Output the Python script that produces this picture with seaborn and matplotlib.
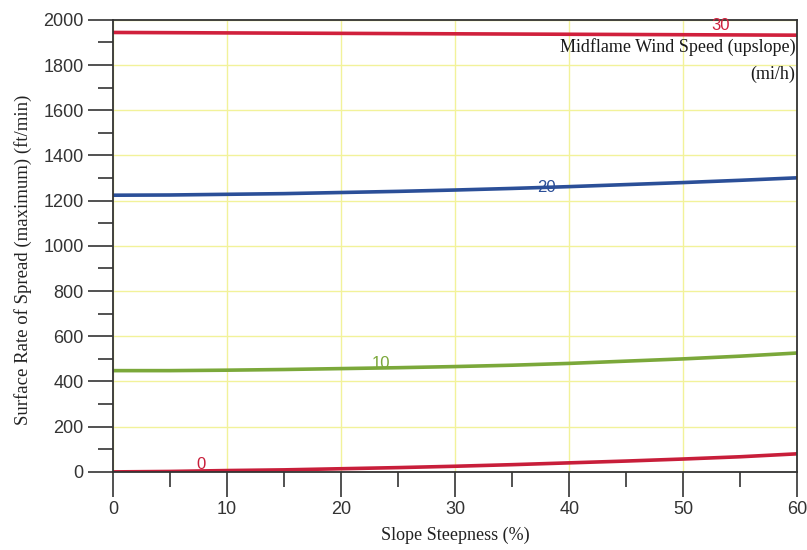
import numpy as np
import pandas as pd
import seaborn as sns
import matplotlib.pyplot as plt
from matplotlib.ticker import MultipleLocator

# slope steepness (%)
slope = [0, 5, 10, 15, 20, 25, 30, 35, 40, 45, 50, 55, 60]
# surface rate of spread (ft/min) for each midflame wind speed (mi/h)
ros_0 = [0, 2, 6, 9, 14, 19, 25, 32, 40, 48, 57, 67, 80]
ros_10 = [448, 448, 450, 453, 457, 461, 466, 472, 480, 490, 500, 512, 526]
ros_20 = [1224, 1225, 1228, 1231, 1236, 1241, 1247, 1254, 1262, 1271, 1280, 1290, 1301]
ros_30 = [1944, 1943, 1942, 1941, 1940, 1939, 1938, 1937, 1936, 1935, 1934, 1933, 1932]
wind_labels = ["0", "10", "20", "30"]
label_x = [7.7, 23.5, 38.0, 53.3]
label_y = [32, 478, 1258, 1975]
colors = ["#c81e3a", "#7ba83a", "#2b4f98", "#d0203c"]

df = pd.DataFrame({
    "Slope Steepness (%)": slope * 4,
    "ROS": ros_0 + ros_10 + ros_20 + ros_30,
    "Wind": sum([[w] * len(slope) for w in wind_labels], []),
})

sns.set_style("white")
fig = plt.figure(figsize=(8.07, 5.5), dpi=100)
ax = fig.add_axes([0.140, 0.142, 0.848, 0.822])

sns.lineplot(data=df, x="Slope Steepness (%)", y="ROS", hue="Wind",
             palette=dict(zip(wind_labels, colors)), linewidth=2.6,
             legend=False, ax=ax)

for w, x, y, c in zip(wind_labels, label_x, label_y, colors):
    ax.text(x, y, w, color=c, fontsize=12, ha="center", va="center",
            family="Liberation Sans")

ax.set_xlim(0, 60)
ax.set_ylim(0, 2000)
ax.xaxis.set_major_locator(MultipleLocator(10))
ax.xaxis.set_minor_locator(MultipleLocator(5))
ax.yaxis.set_major_locator(MultipleLocator(200))
ax.yaxis.set_minor_locator(MultipleLocator(100))
ax.grid(True, which="major", color="#f2f29a", linewidth=1.0)
ax.set_axisbelow(True)
ax.tick_params(axis="both", which="both", bottom=True, left=True)
ax.tick_params(axis="both", which="major", direction="out", length=18,
               width=1.2, color="#333333", labelsize=13, pad=3)
ax.tick_params(axis="both", which="minor", direction="out", length=11,
               width=1.2, color="#333333")
for lab in ax.get_xticklabels() + ax.get_yticklabels():
    lab.set_family("Liberation Sans")
    lab.set_color("#333333")
for sp in ax.spines.values():
    sp.set_color("#333333")
    sp.set_linewidth(1.3)

ax.set_xlabel("Slope Steepness (%)", family="Liberation Serif", fontsize=13,
              color="#222222", labelpad=6)
ax.set_ylabel("Surface Rate of Spread (maximum) (ft/min)", family="Liberation Serif",
              fontsize=13.5, color="#222222")
ax.yaxis.set_label_coords(-0.118, 0.47)

ax.text(0.997, 0.940, "Midflame Wind Speed (upslope)", transform=ax.transAxes,
        ha="right", va="center", family="Liberation Serif", fontsize=13, color="#1a1a1a")
ax.text(0.997, 0.880, "(mi/h)", transform=ax.transAxes,
        ha="right", va="center", family="Liberation Serif", fontsize=13, color="#1a1a1a")

fig.savefig("out.png", dpi=100)
